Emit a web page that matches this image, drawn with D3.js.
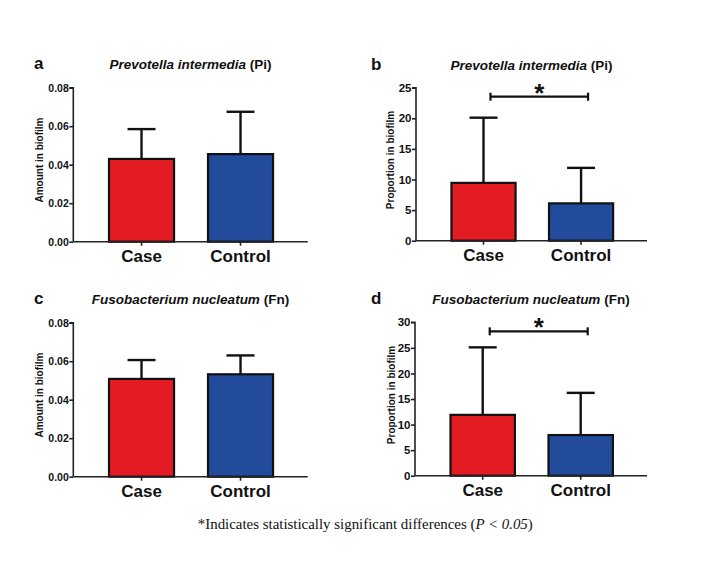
<!DOCTYPE html>
<html>
<head>
<meta charset="utf-8">
<script src="https://cdn.jsdelivr.net/npm/d3@7"></script>
<style>
  html, body { margin: 0; padding: 0; background: #fff; }
  svg { display: block; }
</style>
</head>
<body>
<svg id="chart" width="703" height="572"></svg>
<script>
// ---------------- DATA ----------------
const categories = ["Case", "Control"];

const panelLetters = ["a", "b", "c", "d"];
const panelSpecies = ["Prevotella intermedia", "Prevotella intermedia", "Fusobacterium nucleatum", "Fusobacterium nucleatum"];
const panelAbbrev = ["(Pi)", "(Pi)", "(Fn)", "(Fn)"];
const panelYLabels = ["Amount in biofilm", "Proportion in biofilm", "Amount in biofilm", "Proportion in biofilm"];

// mean values (Case, Control)
const meanA = [0.043, 0.0455];
const meanB = [9.45, 6.1];
const meanC = [0.0508, 0.0532];
const meanD = [11.9, 7.95];

// upper error (mean + SD) values (Case, Control)
const errA = [0.0585, 0.0675];
const errB = [20.1, 11.9];
const errC = [0.0606, 0.0630];
const errD = [25.1, 16.2];

// y-axis tick values
const ticksA = [0, 0.02, 0.04, 0.06, 0.08];
const ticksB = [0, 5, 10, 15, 20, 25];
const ticksC = [0, 0.02, 0.04, 0.06, 0.08];
const ticksD = [0, 5, 10, 15, 20, 25, 30];

const significant = [false, true, false, true];

const footnote = ["*Indicates statistically significant differences (", "P < 0.05", ")"];

// ---------------- LAYOUT ----------------
const layout = [
  { axisX: 73.3, endX: 307.7, top: 87.7, bottom: 241.7, titleY: 69, letterX: 34, ylabX: 43.3, ylabY: 160, fmt: ".2f", tickFs: 10.5 },
  { axisX: 416,  endX: 647,   top: 87.7, bottom: 240.7, titleY: 70, letterX: 371, ylabX: 393.5, ylabY: 160, fmt: "d", tickFs: 11.5 },
  { axisX: 73.3, endX: 307.7, top: 322.7, bottom: 476.7, titleY: 304, letterX: 34, ylabX: 43.3, ylabY: 395, fmt: ".2f", tickFs: 10.5 },
  { axisX: 415,  endX: 647,   top: 322.3, bottom: 475.7, titleY: 304, letterX: 371, ylabX: 394.5, ylabY: 395, fmt: "d", tickFs: 11.5 }
];

const means = [meanA, meanB, meanC, meanD];
const errs = [errA, errB, errC, errD];
const ticks = [ticksA, ticksB, ticksC, ticksD];

const colors = ["#E31B23", "#224C9B"];
const FONT = "'Liberation Sans', Arial, Helvetica, sans-serif";

const svg = d3.select("#chart");

layout.forEach((L, i) => {
  const g = svg.append("g");
  const tk = ticks[i];
  const y = d3.scaleLinear().domain([0, tk[tk.length - 1]]).range([L.bottom, L.top]);
  const bandStart = L.axisX + 35.7 - 0.1715 * 99;
  const x = d3.scaleBand()
    .domain(categories)
    .range([bandStart, bandStart + 198 * (L.endX - L.axisX) / 234.4])
    .paddingInner(0.343)
    .paddingOuter(0.1715);

  // bars
  g.selectAll("rect.bar").data(categories).join("rect")
    .attr("x", d => x(d))
    .attr("y", (d, j) => y(means[i][j]))
    .attr("width", x.bandwidth())
    .attr("height", (d, j) => y(0) - y(means[i][j]))
    .attr("fill", (d, j) => colors[j])
    .attr("stroke", "#111")
    .attr("stroke-width", 2.2);

  // error bars (upper only)
  const capHalf = 14;
  categories.forEach((c, j) => {
    const cx = x(c) + x.bandwidth() / 2;
    g.append("line")
      .attr("x1", cx).attr("x2", cx)
      .attr("y1", y(means[i][j])).attr("y2", y(errs[i][j]))
      .attr("stroke", "#111").attr("stroke-width", 2.4);
    g.append("line")
      .attr("x1", cx - capHalf).attr("x2", cx + capHalf)
      .attr("y1", y(errs[i][j])).attr("y2", y(errs[i][j]))
      .attr("stroke", "#111").attr("stroke-width", 2.4);
  });

  // y axis
  const yAxis = d3.axisLeft(y).tickValues(tk).tickSize(4).tickPadding(0.5)
    .tickFormat(d3.format(L.fmt));
  const ya = g.append("g").attr("transform", `translate(${L.axisX},0)`).call(yAxis);
  ya.select(".domain").attr("stroke", "#222").attr("stroke-width", 1.6).attr("d", `M-4,${L.top}H0V${L.bottom}`);
  ya.selectAll(".tick line").attr("stroke", "#222").attr("stroke-width", 1.6);
  ya.selectAll(".tick text")
    .attr("font-family", FONT).attr("font-size", L.tickFs).attr("font-weight", "bold").attr("fill", "#111");

  // x axis
  const xa = g.append("g").attr("transform", `translate(0,${L.bottom})`)
    .call(d3.axisBottom(x).tickSize(4).tickPadding(5));
  xa.select(".domain").attr("stroke", "#222").attr("stroke-width", 1.6)
    .attr("d", `M${L.axisX},0H${L.endX}`);
  xa.selectAll(".tick line").attr("stroke", "#222").attr("stroke-width", 1.6);
  xa.selectAll(".tick text")
    .attr("font-family", FONT).attr("font-size", 17).attr("font-weight", "bold").attr("fill", "#111")
    .attr("dy", null).attr("y", 20.3);

  // y label
  g.append("text")
    .attr("transform", `translate(${L.ylabX},${L.ylabY}) rotate(-90)`)
    .attr("text-anchor", "middle")
    .attr("font-family", FONT).attr("font-size", 10).attr("font-weight", "bold").attr("fill", "#111")
    .text(panelYLabels[i]);

  // panel letter
  g.append("text")
    .attr("x", L.letterX).attr("y", L.titleY)
    .attr("font-family", FONT).attr("font-size", 17).attr("font-weight", "bold").attr("fill", "#111")
    .text(panelLetters[i]);

  // title
  const t = g.append("text")
    .attr("x", (L.axisX + L.endX) / 2).attr("y", L.titleY)
    .attr("text-anchor", "middle")
    .attr("font-family", FONT).attr("font-size", 13.5).attr("font-weight", "bold").attr("fill", "#111");
  t.append("tspan").attr("font-style", "italic").text(panelSpecies[i]);
  t.append("tspan").text(" " + panelAbbrev[i]);

  // significance bracket
  if (significant[i]) {
    const x1 = x(categories[0]) + x.bandwidth() / 2 + 7;
    const x2 = x(categories[1]) + x.bandwidth() / 2 + 7;
    const by = y(tk[tk.length - 1]) + 9;
    g.append("line").attr("x1", x1).attr("x2", x2).attr("y1", by).attr("y2", by)
      .attr("stroke", "#111").attr("stroke-width", 2.2);
    [x1, x2].forEach(xx => g.append("line")
      .attr("x1", xx).attr("x2", xx).attr("y1", by - 4).attr("y2", by + 4)
      .attr("stroke", "#111").attr("stroke-width", 2.2));
    g.append("text")
      .attr("x", (x1 + x2) / 2).attr("y", by + 4.8)
      .attr("text-anchor", "middle")
      .attr("font-family", FONT).attr("font-size", 26).attr("font-weight", "bold").attr("fill", "#111")
      .text("*");
  }
});

// footnote
const fn = svg.append("text")
  .attr("x", 365.3).attr("y", 529.3)
  .attr("text-anchor", "middle")
  .attr("font-family", "'Liberation Serif', 'Times New Roman', serif")
  .attr("font-size", 14.9).attr("fill", "#111");
fn.append("tspan").text(footnote[0]);
fn.append("tspan").attr("font-style", "italic").text(footnote[1]);
fn.append("tspan").text(footnote[2]);
</script>
</body>
</html>
